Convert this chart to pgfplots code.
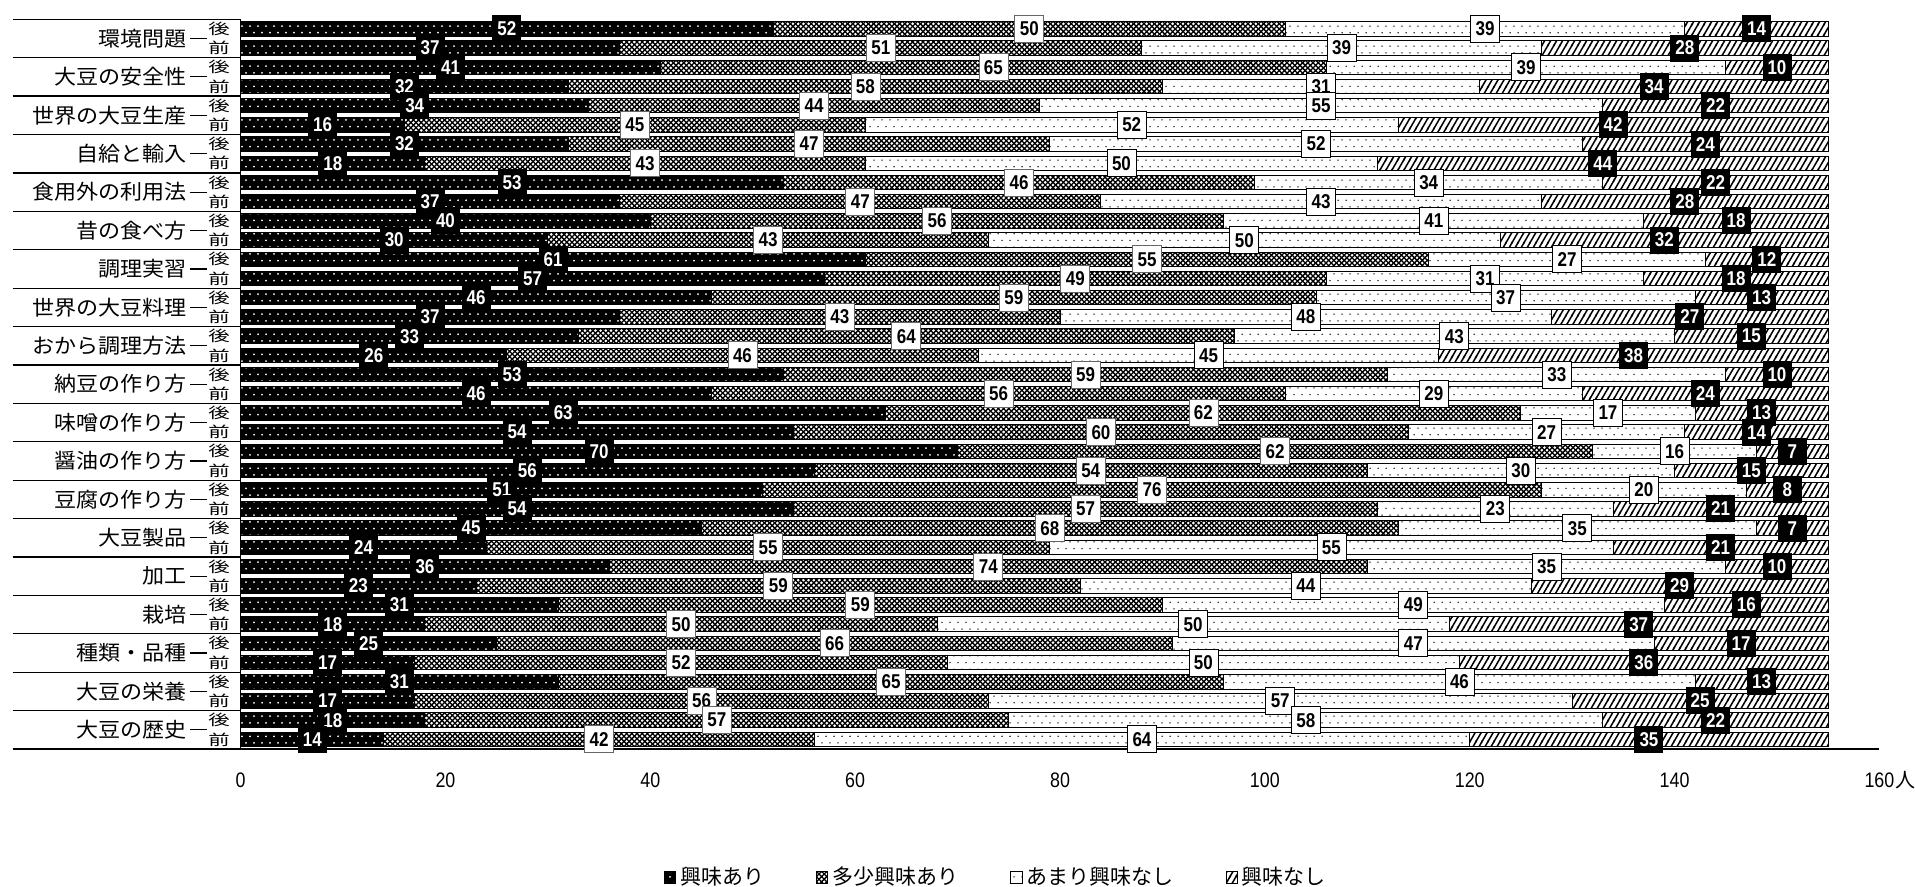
\documentclass[border=0pt]{standalone}
\usepackage{fontspec}
\usepackage{pgfplots}
\pgfplotsset{compat=1.18}
\usepackage{pgfplotstable}
\usetikzlibrary{patterns}
\setmainfont{Liberation Sans}
\newfontfamily\cjk{Noto Sans CJK JP}
\newfontfamily\cjkw[FakeStretch=1.07]{Noto Sans CJK JP}
\newfontfamily\cjkww[FakeStretch=1.45]{Noto Sans CJK JP}
\newfontfamily\narrow[FakeStretch=0.85]{Liberation Sans}
\newfontfamily\numf[FakeStretch=0.85]{Liberation Sans}

% custom fill patterns
\pgfdeclarepatternformonly{sdots}{\pgfqpoint{-1pt}{-1pt}}{\pgfqpoint{5pt}{7.7pt}}{\pgfqpoint{4pt}{6.7pt}}{%
  \pgfpathcircle{\pgfqpoint{1pt}{1.67pt}}{0.5pt}%
  \pgfpathcircle{\pgfqpoint{3pt}{5.02pt}}{0.5pt}%
  \pgfusepath{fill}}
\pgfdeclarepatternformonly{ldots}{\pgfqpoint{-1pt}{-1pt}}{\pgfqpoint{5pt}{7.7pt}}{\pgfqpoint{4pt}{6.7pt}}{%
  \pgfpathcircle{\pgfqpoint{1pt}{1.67pt}}{0.38pt}%
  \pgfpathcircle{\pgfqpoint{3pt}{5.02pt}}{0.38pt}%
  \pgfusepath{fill}}
\pgfdeclarepatternformonly{xhatch}{\pgfqpoint{-0.6pt}{-0.6pt}}{\pgfqpoint{3.2pt}{3.2pt}}{\pgfqpoint{2.6pt}{2.6pt}}{%
  \pgfsetlinewidth{0.65pt}%
  \pgfpathmoveto{\pgfqpoint{-0.2pt}{-0.2pt}}\pgfpathlineto{\pgfqpoint{2.8pt}{2.8pt}}%
  \pgfpathmoveto{\pgfqpoint{-0.2pt}{2.8pt}}\pgfpathlineto{\pgfqpoint{2.8pt}{-0.2pt}}%
  \pgfusepath{stroke}}
\pgfdeclarepatternformonly{slines}{\pgfqpoint{-0.6pt}{-0.8pt}}{\pgfqpoint{3.6pt}{6pt}}{\pgfqpoint{3pt}{5.196pt}}{%
  \pgfsetlinewidth{0.75pt}%
  \pgfpathmoveto{\pgfqpoint{-0.3pt}{-0.52pt}}\pgfpathlineto{\pgfqpoint{3.3pt}{5.716pt}}%
  \pgfusepath{stroke}}

\pgfplotstableread{
y a b c d
37 52 50 39 14
36 37 51 39 28
35 41 65 39 10
34 32 58 31 34
33 34 44 55 22
32 16 45 52 42
31 32 47 52 24
30 18 43 50 44
29 53 46 34 22
28 37 47 43 28
27 40 56 41 18
26 30 43 50 32
25 61 55 27 12
24 57 49 31 18
23 46 59 37 13
22 37 43 48 27
21 33 64 43 15
20 26 46 45 38
19 53 59 33 10
18 46 56 29 24
17 63 62 17 13
16 54 60 27 14
15 70 62 16 7
14 56 54 30 15
13 51 76 20 8
12 54 57 23 21
11 45 68 35 7
10 24 55 55 21
9 36 74 35 10
8 23 59 44 29
7 31 59 49 16
6 18 50 50 37
5 25 66 47 17
4 17 52 50 36
3 31 65 46 13
2 17 56 57 25
1 18 57 58 22
0 14 42 64 35
}\data
% label positions: middle of each segment
\pgfplotstablecreatecol[create col/expr={\thisrow{a}/2}]{ca}{\data}
\pgfplotstablecreatecol[create col/expr={\thisrow{a}+\thisrow{b}/2}]{cb}{\data}
\pgfplotstablecreatecol[create col/expr={\thisrow{a}+\thisrow{b}+\thisrow{c}/2}]{cc}{\data}
\pgfplotstablecreatecol[create col/expr={\thisrow{a}+\thisrow{b}+\thisrow{c}+\thisrow{d}/2}]{cd}{\data}

\tikzset{
  lblbase/.style={inner sep=0pt, minimum width=14.5pt, minimum height=13.5pt,
    font=\numf\bfseries\fontsize{10}{11}\selectfont, anchor=center},
  lbldark/.style={lblbase, fill=black, text=white, draw=none},
  lbllight/.style={lblbase, fill=white, text=black, draw=black!60, line width=0.4pt},
  catlbl/.style={anchor=east, font=\cjkw\fontsize{10.3}{11}\selectfont, inner sep=0pt},
}

\pgfplotsset{
  geom/.style={
    scale only axis, width=819.4pt, height=364.85pt,
    at={(120.3pt,69pt)}, anchor=south west,
    xmin=0, xmax=160, ymin=-0.5, ymax=37.5, clip=false,
  },
}

\begin{document}
\begin{tikzpicture}
\useasboundingbox (0,0) rectangle (957.5pt,443.5pt);
\begin{axis}[geom, xbar stacked, bar width=7.25pt,
  axis line style={draw=none},
  major tick length=0pt,
  xtick={0,20,...,160},
  /pgf/number format/assume math mode=true,
  xticklabel style={font=\narrow\fontsize{10.5}{11}\selectfont, anchor=center, yshift=-15.5pt, inner sep=0pt},
  ytick={0,...,37},
  yticklabels={前,後,前,後,前,後,前,後,前,後,前,後,前,後,前,後,前,後,前,後,前,後,前,後,前,後,前,後,前,後,前,後,前,後,前,後,前,後},
  yticklabel style={font=\cjkww\fontsize{7.4}{8}\selectfont, anchor=center, xshift=-10.8pt, inner sep=0pt},
  legend style={at={(0.4615,-0.176)}, anchor=center, draw=none, fill=none,
    legend columns=4, font=\cjk\fontsize{10.5}{11}\selectfont,
    /tikz/every even column/.append style={column sep=24pt}},
  legend cell align=left,
  legend image code/.code={\draw[#1] (0pt,-2.8pt) rectangle (5.6pt,2.8pt);},
]
\addplot[fill=black, draw=black, line width=0.5pt, postaction={pattern=sdots, pattern color=white}] table[x=a,y=y]{\data};
\addlegendentry{興味あり}
\addplot[fill=white, draw=black, line width=0.5pt, postaction={pattern=xhatch, pattern color=black}] table[x=b,y=y]{\data};
\addlegendentry{多少興味あり}
\addplot[fill=white, draw=black, line width=0.5pt, postaction={pattern=ldots, pattern color=black}] table[x=c,y=y]{\data};
\addlegendentry{あまり興味なし}
\addplot[fill=white, draw=black, line width=0.5pt, postaction={pattern=slines, pattern color=black}] table[x=d,y=y]{\data};
\addlegendentry{興味なし}

\draw[line width=0.6pt] (axis cs:-22.25,-0.5) -- (axis cs:160,-0.5);
\draw[line width=0.6pt] (axis cs:0,-0.5) -- (axis cs:0,37.5);
\draw[line width=0.6pt]
  (axis cs:-22.25,1.5) -- (axis cs:0,1.5)
  (axis cs:-22.25,3.5) -- (axis cs:0,3.5)
  (axis cs:-22.25,5.5) -- (axis cs:0,5.5)
  (axis cs:-22.25,7.5) -- (axis cs:0,7.5)
  (axis cs:-22.25,9.5) -- (axis cs:0,9.5)
  (axis cs:-22.25,11.5) -- (axis cs:0,11.5)
  (axis cs:-22.25,13.5) -- (axis cs:0,13.5)
  (axis cs:-22.25,15.5) -- (axis cs:0,15.5)
  (axis cs:-22.25,17.5) -- (axis cs:0,17.5)
  (axis cs:-22.25,19.5) -- (axis cs:0,19.5)
  (axis cs:-22.25,21.5) -- (axis cs:0,21.5)
  (axis cs:-22.25,23.5) -- (axis cs:0,23.5)
  (axis cs:-22.25,25.5) -- (axis cs:0,25.5)
  (axis cs:-22.25,27.5) -- (axis cs:0,27.5)
  (axis cs:-22.25,29.5) -- (axis cs:0,29.5)
  (axis cs:-22.25,31.5) -- (axis cs:0,31.5)
  (axis cs:-22.25,33.5) -- (axis cs:0,33.5)
  (axis cs:-22.25,35.5) -- (axis cs:0,35.5)
  (axis cs:-22.25,37.5) -- (axis cs:0,37.5);
\draw[line width=0.6pt]
  (axis cs:-4.94,0.5) -- (axis cs:-3.28,0.5)
  (axis cs:-4.94,2.5) -- (axis cs:-3.28,2.5)
  (axis cs:-4.94,4.5) -- (axis cs:-3.28,4.5)
  (axis cs:-4.94,6.5) -- (axis cs:-3.28,6.5)
  (axis cs:-4.94,8.5) -- (axis cs:-3.28,8.5)
  (axis cs:-4.94,10.5) -- (axis cs:-3.28,10.5)
  (axis cs:-4.94,12.5) -- (axis cs:-3.28,12.5)
  (axis cs:-4.94,14.5) -- (axis cs:-3.28,14.5)
  (axis cs:-4.94,16.5) -- (axis cs:-3.28,16.5)
  (axis cs:-4.94,18.5) -- (axis cs:-3.28,18.5)
  (axis cs:-4.94,20.5) -- (axis cs:-3.28,20.5)
  (axis cs:-4.94,22.5) -- (axis cs:-3.28,22.5)
  (axis cs:-4.94,24.5) -- (axis cs:-3.28,24.5)
  (axis cs:-4.94,26.5) -- (axis cs:-3.28,26.5)
  (axis cs:-4.94,28.5) -- (axis cs:-3.28,28.5)
  (axis cs:-4.94,30.5) -- (axis cs:-3.28,30.5)
  (axis cs:-4.94,32.5) -- (axis cs:-3.28,32.5)
  (axis cs:-4.94,34.5) -- (axis cs:-3.28,34.5)
  (axis cs:-4.94,36.5) -- (axis cs:-3.28,36.5);
\node[catlbl] at (axis cs:-5.23,36.5) {環境問題};
\node[catlbl] at (axis cs:-5.23,34.5) {大豆の安全性};
\node[catlbl] at (axis cs:-5.23,32.5) {世界の大豆生産};
\node[catlbl] at (axis cs:-5.23,30.5) {自給と輸入};
\node[catlbl] at (axis cs:-5.23,28.5) {食用外の利用法};
\node[catlbl] at (axis cs:-5.23,26.5) {昔の食べ方};
\node[catlbl] at (axis cs:-5.23,24.5) {調理実習};
\node[catlbl] at (axis cs:-5.23,22.5) {世界の大豆料理};
\node[catlbl] at (axis cs:-5.23,20.5) {おから調理方法};
\node[catlbl] at (axis cs:-5.23,18.5) {納豆の作り方};
\node[catlbl] at (axis cs:-5.23,16.5) {味噌の作り方};
\node[catlbl] at (axis cs:-5.23,14.5) {醤油の作り方};
\node[catlbl] at (axis cs:-5.23,12.5) {豆腐の作り方};
\node[catlbl] at (axis cs:-5.23,10.5) {大豆製品};
\node[catlbl] at (axis cs:-5.23,8.5) {加工};
\node[catlbl] at (axis cs:-5.23,6.5) {栽培};
\node[catlbl] at (axis cs:-5.23,4.5) {種類・品種};
\node[catlbl] at (axis cs:-5.23,2.5) {大豆の栄養};
\node[catlbl] at (axis cs:-5.23,0.5) {大豆の歴史};
\node[anchor=west, inner sep=0pt, font=\cjk\fontsize{10}{11}\selectfont, xshift=7.6pt, yshift=-15.5pt] at (axis cs:160,-0.5) {人};
\end{axis}

\begin{axis}[geom, hide axis, /pgf/number format/assume math mode=true]
\addplot[only marks, mark=none, nodes near coords, point meta=explicit,
  every node near coord/.append style={lbldark}] table[x=ca,y=y,meta=a]{\data};
\addplot[only marks, mark=none, nodes near coords, point meta=explicit,
  every node near coord/.append style={lbllight}] table[x=cb,y=y,meta=b]{\data};
\addplot[only marks, mark=none, nodes near coords, point meta=explicit,
  every node near coord/.append style={lbllight, draw=black}] table[x=cc,y=y,meta=c]{\data};
\addplot[only marks, mark=none, nodes near coords, point meta=explicit,
  every node near coord/.append style={lbldark}] table[x=cd,y=y,meta=d]{\data};
\end{axis}
\end{tikzpicture}
\end{document}
